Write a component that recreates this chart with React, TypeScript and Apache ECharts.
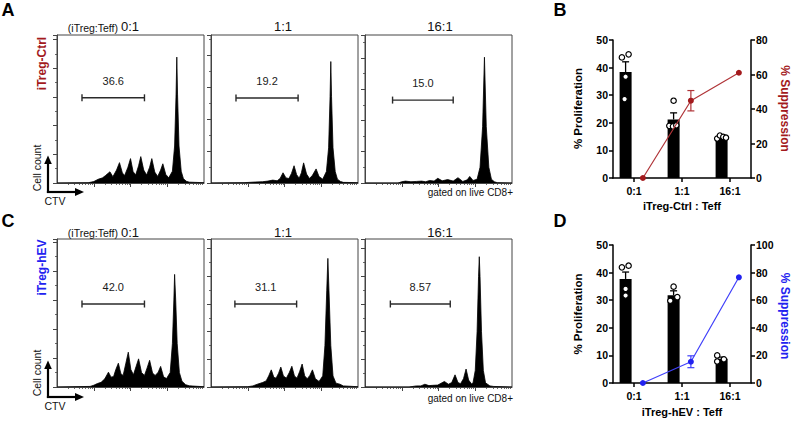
import React, { useEffect, useRef } from 'react';
import * as echarts from 'echarts';

const FONT = '"Liberation Sans", Arial, Helvetica, sans-serif';
const RED = '#a31a1d';
const RED_LINE = '#b03438';
const BLUE = '#2222f0';
const BLUE_LINE = '#4040fa';
const BOX = '#444';

// ---------- categories ----------
const RATIOS = ['0:1', '1:1', '16:1'];

// ---------- CTV histograms: [CTV (log10 decades), cell count] ----------
const HIST_CTRL_0_1 = [
  [0, 0], [0.85, 1], [1.0, 5], [1.12, 13], [1.24, 18], [1.32, 26], [1.44, 39], [1.52, 22], [1.62, 45], [1.7, 71],
  [1.78, 35], [1.84, 26], [1.93, 55], [2.0, 85], [2.07, 40], [2.14, 28], [2.22, 60], [2.28, 92], [2.36, 45],
  [2.44, 28], [2.52, 55], [2.58, 85], [2.66, 38], [2.74, 23], [2.82, 45], [2.88, 67], [2.96, 30], [3.04, 18],
  [3.14, 41], [3.2, 129], [3.24, 310], [3.26, 439], [3.28, 310], [3.32, 129], [3.38, 41], [3.44, 15], [3.52, 6],
  [3.6, 3], [4, 1],
];
const HIST_CTRL_1_1 = [
  [0, 0], [0.9, 1], [1.2, 3], [1.4, 4], [1.55, 6], [1.68, 9], [1.8, 7], [1.88, 14], [1.96, 32], [2.04, 16],
  [2.12, 14], [2.19, 30], [2.26, 54], [2.33, 26], [2.4, 15], [2.46, 32], [2.52, 63], [2.6, 28], [2.68, 14],
  [2.76, 24], [2.86, 44], [2.94, 20], [3.04, 12], [3.14, 36], [3.2, 110], [3.24, 270], [3.26, 380], [3.28, 270],
  [3.32, 110], [3.38, 36], [3.44, 12], [3.52, 5], [3.6, 2], [4, 1],
];
const HIST_CTRL_16_1 = [
  [0, 0], [0.9, 0], [1.0, 4], [1.1, 6], [1.25, 4], [1.4, 5], [1.54, 6], [1.65, 4], [1.76, 8], [1.88, 6],
  [1.98, 15], [2.1, 7], [2.25, 11], [2.4, 6], [2.53, 17], [2.66, 5], [2.78, 10], [2.85, 21], [2.94, 8],
  [3.05, 12], [3.13, 50], [3.2, 180], [3.25, 402], [3.3, 180], [3.37, 50], [3.44, 12], [3.52, 4], [3.6, 1], [4, 0],
];
const HIST_HEV_0_1 = [
  [0, 0], [0.9, 2], [1.0, 6], [1.1, 12], [1.2, 16], [1.3, 28], [1.4, 51], [1.47, 34], [1.54, 36], [1.6, 60],
  [1.67, 82], [1.74, 45], [1.8, 40], [1.87, 80], [1.94, 120], [2.01, 60], [2.08, 42], [2.15, 70], [2.22, 97],
  [2.3, 50], [2.38, 40], [2.45, 65], [2.52, 92], [2.6, 48], [2.67, 40], [2.75, 50], [2.82, 71], [2.9, 35],
  [2.98, 29], [3.08, 50], [3.14, 150], [3.18, 300], [3.2, 388], [3.23, 300], [3.27, 150], [3.33, 50], [3.4, 20],
  [3.5, 8], [3.6, 4], [4, 1],
];
const HIST_HEV_1_1 = [
  [0, 0], [1.0, 1], [1.14, 4], [1.26, 10], [1.4, 16], [1.5, 22], [1.57, 40], [1.64, 62], [1.71, 35], [1.77, 32],
  [1.84, 50], [1.9, 72], [1.97, 40], [2.05, 32], [2.13, 52], [2.2, 75], [2.27, 40], [2.34, 32], [2.41, 55],
  [2.48, 83], [2.55, 40], [2.62, 30], [2.69, 42], [2.76, 62], [2.84, 30], [2.94, 20], [3.04, 40], [3.1, 150],
  [3.15, 350], [3.18, 465], [3.21, 350], [3.26, 150], [3.32, 40], [3.4, 14], [3.51, 10], [3.6, 4], [4, 1],
];
const HIST_HEV_16_1 = [
  [0, 0], [1.2, 0], [1.4, 4], [1.52, 4], [1.63, 10], [1.74, 5], [1.84, 6], [1.98, 7], [2.16, 20], [2.27, 10],
  [2.36, 16], [2.45, 44], [2.53, 16], [2.6, 12], [2.68, 30], [2.75, 65], [2.82, 25], [2.9, 11], [2.94, 15],
  [3.0, 60], [3.05, 200], [3.09, 400], [3.11, 471], [3.13, 400], [3.17, 200], [3.22, 60], [3.28, 15], [3.4, 4],
  [3.5, 2], [4, 0],
];

// y-axis maximum (cell count) of each histogram box
const YMAX_CTRL = [516, 463, 473];
const YMAX_HEV = [510, 535, 535];

// proliferation gates: [from CTV, to CTV, height (count)] and their % labels
const GATE_CTRL = [[0.68, 2.38, 297], [0.68, 2.37, 266], [0.75, 2.4, 265]];
const GATE_HEV = [[0.68, 2.38, 286], [0.65, 2.33, 300], [0.69, 2.32, 300]];
const GATE_PCT_CTRL = ['36.6', '19.2', '15.0'];
const GATE_PCT_HEV = ['42.0', '31.1', '8.57'];

// CTV axis ticks (log decades)
const CTV_MAJOR_TICKS = [1, 2, 3];
const CTV_MINOR_TICKS = [0, 1, 2, 3].flatMap((d) => [2, 3, 4, 5, 6, 7, 8, 9].map((k) => d + Math.log10(k)));

// ---------- summary panels ----------
const PROLIF_CTRL_MEAN = [38.4, 21.2, 15.1];
const PROLIF_CTRL_SEM = [3.7, 2.4, 0.4];
const PROLIF_CTRL_POINTS = [[43.7, 44.8, 36.7, 28.6], [28.0, 18.9, 18.7, 19.1], [14.3, 15.4, 14.9, 14.6]];
const SUPP_CTRL_MEAN = [0, 44.8, 61.0];
const SUPP_CTRL_SEM = [0, 5.9, 0];

const PROLIF_HEV_MEAN = [37.7, 31.8, 8.8];
const PROLIF_HEV_SEM = [2.5, 1.6, 0.6];
const PROLIF_HEV_POINTS = [[41.9, 42.5, 34.1, 31.7], [34.9, 29.8, 31.1], [10.0, 7.8, 8.6]];
const SUPP_HEV_MEAN = [0, 15.4, 76.6];
const SUPP_HEV_SEM = [0, 4.3, 0];

const PROLIF_TICKS = { min: 0, max: 50, interval: 10 };
const SUPP_TICKS_CTRL = { min: 0, max: 80, interval: 20 };
const SUPP_TICKS_HEV = { min: 0, max: 100, interval: 20 };

// horizontal jitter (px) of replicate dots
const JITTER_CTRL = [[-3.7, 3, 0, -1], [0, -4.3, -0.6, 2.7], [-4.4, -1.7, 1.7, 4.4]];
const JITTER_HEV = [[-3.7, 3, 0, 0], [0, -3.3, 3.7], [-4.4, -4.4, 2.3]];

// layout
const X_MIN = -0.4375;
const X_MAX = 2.4375;
const BAR_OFFSET = -0.175;
const LINE_OFFSET = 0.185;
const HIST_LEFT = [57, 211, 365];
const HIST_TOP = [35, 239];
const HIST_W = 147;
const HIST_H = 148;

function buildOption() {
  const grid: any[] = [];
  const xAxis: any[] = [];
  const yAxis: any[] = [];
  const series: any[] = [];

  const rows = [
    { hist: [HIST_CTRL_0_1, HIST_CTRL_1_1, HIST_CTRL_16_1], ymax: YMAX_CTRL, gates: GATE_CTRL, pct: GATE_PCT_CTRL },
    { hist: [HIST_HEV_0_1, HIST_HEV_1_1, HIST_HEV_16_1], ymax: YMAX_HEV, gates: GATE_HEV, pct: GATE_PCT_HEV },
  ];

  rows.forEach((row, r) => {
    row.hist.forEach((data, c) => {
      const g = grid.length;
      grid.push({
        left: HIST_LEFT[c], top: HIST_TOP[r], width: HIST_W, height: HIST_H,
        show: true, borderColor: BOX, borderWidth: 1, backgroundColor: 'transparent',
        containLabel: false, outerBoundsMode: 'none',
      });
      const xi = xAxis.length;
      const baseX = {
        type: 'value', gridIndex: g, min: 0, max: 4, position: 'bottom',
        axisLabel: { show: false }, splitLine: { show: false },
      };
      xAxis.push({
        ...baseX,
        axisLine: { show: true, onZero: false, lineStyle: { color: BOX, width: 1 } },
        axisTick: { show: true, customValues: CTV_MAJOR_TICKS, length: 4, lineStyle: { color: BOX, width: 1 } },
      });
      xAxis.push({
        ...baseX,
        axisLine: { show: false, onZero: false },
        axisTick: { show: true, customValues: CTV_MINOR_TICKS, length: 2, lineStyle: { color: BOX, width: 0.8 } },
      });
      const yi = yAxis.length;
      yAxis.push({
        type: 'value', gridIndex: g, min: 0, max: row.ymax[c], interval: 100,
        axisLine: { show: true, onZero: false, lineStyle: { color: BOX, width: 1 } },
        axisTick: { show: true, length: 4, lineStyle: { color: BOX, width: 1 } },
        minorTick: { show: true, splitNumber: 2, length: 2, lineStyle: { color: BOX, width: 0.8 } },
        axisLabel: { show: false }, splitLine: { show: false }, minorSplitLine: { show: false },
      });
      series.push({
        type: 'line', xAxisIndex: xi, yAxisIndex: yi, data,
        showSymbol: false, symbol: 'none', silent: true,
        lineStyle: { color: '#000', width: 0.8 },
        areaStyle: { color: '#000', opacity: 1 },
      });
      const label = row.pct[c];
      series.push({
        type: 'custom', xAxisIndex: xi, yAxisIndex: yi, data: [row.gates[c]], silent: true, z: 5,
        renderItem: (_p: any, api: any) => {
          const a = api.coord([api.value(0), api.value(2)]);
          const b = api.coord([api.value(1), api.value(2)]);
          const s = { stroke: '#2a2a2a', lineWidth: 1.4 };
          return {
            type: 'group',
            children: [
              { type: 'line', shape: { x1: a[0], y1: a[1], x2: b[0], y2: b[1] }, style: s },
              { type: 'line', shape: { x1: a[0], y1: a[1] - 3.5, x2: a[0], y2: a[1] + 3.5 }, style: s },
              { type: 'line', shape: { x1: b[0], y1: b[1] - 3.5, x2: b[0], y2: b[1] + 3.5 }, style: s },
              {
                type: 'text', x: (a[0] + b[0]) / 2, y: a[1] - 17,
                style: { text: label, fill: '#1a1a1a', fontSize: 11, fontFamily: FONT, align: 'center', verticalAlign: 'middle' },
              },
            ],
          };
        },
      });
    });
  });

  const stats = [
    {
      top: 40, mean: PROLIF_CTRL_MEAN, sem: PROLIF_CTRL_SEM, points: PROLIF_CTRL_POINTS, jitter: JITTER_CTRL,
      supp: SUPP_CTRL_MEAN, suppSem: SUPP_CTRL_SEM, suppTicks: SUPP_TICKS_CTRL, color: RED, lineColor: RED_LINE,
    },
    {
      top: 245, mean: PROLIF_HEV_MEAN, sem: PROLIF_HEV_SEM, points: PROLIF_HEV_POINTS, jitter: JITTER_HEV,
      supp: SUPP_HEV_MEAN, suppSem: SUPP_HEV_SEM, suppTicks: SUPP_TICKS_HEV, color: BLUE, lineColor: BLUE_LINE,
    },
  ];

  const axisStyle = { color: '#000', width: 1.5 };
  const tickLabel = { fontWeight: 'bold', fontSize: 10.5, color: '#000', fontFamily: FONT };

  stats.forEach((st) => {
    const g = grid.length;
    grid.push({ left: 613, top: st.top, width: 138, height: 138, show: false, containLabel: false, outerBoundsMode: 'none' });
    const xi = xAxis.length;
    xAxis.push({
      type: 'value', gridIndex: g, min: X_MIN, max: X_MAX, position: 'bottom',
      axisLine: { show: true, onZero: false, lineStyle: axisStyle },
      axisTick: { show: true, customValues: [0, 1, 2], length: 4, lineStyle: axisStyle },
      axisLabel: { show: true, customValues: [0, 1, 2], formatter: (v: number) => RATIOS[Math.round(v)], margin: 7, ...tickLabel },
      splitLine: { show: false },
    });
    const yl = yAxis.length;
    yAxis.push({
      type: 'value', gridIndex: g, position: 'left', ...PROLIF_TICKS,
      axisLine: { show: true, onZero: false, lineStyle: axisStyle },
      axisTick: { show: true, length: 4, lineStyle: axisStyle },
      axisLabel: { show: true, margin: 5, ...tickLabel },
      splitLine: { show: false },
    });
    const yr = yAxis.length;
    yAxis.push({
      type: 'value', gridIndex: g, position: 'right', ...st.suppTicks,
      axisLine: { show: true, onZero: false, lineStyle: axisStyle },
      axisTick: { show: true, length: 4, lineStyle: axisStyle },
      axisLabel: { show: true, margin: 5, ...tickLabel },
      splitLine: { show: false },
    });

    // bars
    series.push({
      type: 'custom', xAxisIndex: xi, yAxisIndex: yl, z: 2, silent: true,
      data: RATIOS.map((_, i) => [i + BAR_OFFSET, st.mean[i]]),
      renderItem: (_p: any, api: any) => {
        const top = api.coord([api.value(0), api.value(1)]);
        const base = api.coord([api.value(0), 0]);
        return { type: 'rect', shape: { x: top[0] - 6, y: top[1], width: 12, height: base[1] - top[1] }, style: { fill: '#000' } };
      },
    });
    // SEM (upper)
    series.push({
      type: 'custom', xAxisIndex: xi, yAxisIndex: yl, z: 3, silent: true,
      data: RATIOS.map((_, i) => [i + BAR_OFFSET, st.mean[i], st.sem[i]]),
      renderItem: (_p: any, api: any) => {
        const a = api.coord([api.value(0), api.value(1)]);
        const b = api.coord([api.value(0), api.value(1) + api.value(2)]);
        const s = { stroke: '#000', lineWidth: 1.3 };
        return {
          type: 'group',
          children: [
            { type: 'line', shape: { x1: a[0], y1: a[1], x2: b[0], y2: b[1] }, style: s },
            { type: 'line', shape: { x1: b[0] - 3.5, y1: b[1], x2: b[0] + 3.5, y2: b[1] }, style: s },
          ],
        };
      },
    });
    // replicate dots
    const dots: number[][] = [];
    st.points.forEach((vals, i) => vals.forEach((v, k) => dots.push([i + BAR_OFFSET, v, st.jitter[i][k]])));
    series.push({
      type: 'custom', xAxisIndex: xi, yAxisIndex: yl, z: 4, silent: true, data: dots,
      renderItem: (_p: any, api: any) => {
        const p = api.coord([api.value(0), api.value(1)]);
        return { type: 'circle', shape: { cx: p[0] + api.value(2), cy: p[1], r: 2.7 }, style: { fill: '#fff', stroke: '#000', lineWidth: 1.2 } };
      },
    });
    // suppression SEM
    series.push({
      type: 'custom', xAxisIndex: xi, yAxisIndex: yr, z: 5, silent: true,
      data: RATIOS.map((_, i) => [i + LINE_OFFSET, st.supp[i], st.suppSem[i]]),
      renderItem: (_p: any, api: any) => {
        if (!api.value(2)) return null;
        const a = api.coord([api.value(0), api.value(1) - api.value(2)]);
        const b = api.coord([api.value(0), api.value(1) + api.value(2)]);
        const s = { stroke: st.lineColor, lineWidth: 1.2 };
        return {
          type: 'group',
          children: [
            { type: 'line', shape: { x1: a[0], y1: a[1], x2: b[0], y2: b[1] }, style: s },
            { type: 'line', shape: { x1: a[0] - 3.5, y1: a[1], x2: a[0] + 3.5, y2: a[1] }, style: s },
            { type: 'line', shape: { x1: b[0] - 3.5, y1: b[1], x2: b[0] + 3.5, y2: b[1] }, style: s },
          ],
        };
      },
    });
    // suppression line
    series.push({
      type: 'line', xAxisIndex: xi, yAxisIndex: yr, z: 6, silent: true, clip: false,
      data: RATIOS.map((_, i) => [i + LINE_OFFSET, st.supp[i]]),
      symbol: 'circle', symbolSize: 6, showSymbol: true,
      itemStyle: { color: st.color },
      lineStyle: { color: st.lineColor, width: 1.2 },
    });
  });

  const txt = (text: string, x: number, y: number, o: any = {}) => ({
    type: 'text', x, y, rotation: o.rotation || 0, silent: true,
    style: {
      text, fill: o.color || '#000', fontSize: o.size || 11, fontFamily: FONT, fontWeight: o.weight || 'normal',
      align: o.align || 'center', verticalAlign: 'middle',
    },
  });

  const elements: any[] = [
    txt('A', 8, 10, { size: 18, weight: 'bold' }),
    txt('B', 560, 10, { size: 18, weight: 'bold' }),
    txt('C', 8, 221, { size: 18, weight: 'bold' }),
    txt('D', 560, 221, { size: 18, weight: 'bold' }),
    txt('iTreg-Ctrl', 42, 63.5, { size: 12, weight: 'bold', color: RED, rotation: Math.PI / 2 }),
    txt('iTreg-hEV', 42, 267.5, { size: 12, weight: 'bold', color: BLUE, rotation: Math.PI / 2 }),
  ];

  const TITLE_Y = [26.5, 232];
  const ARROW_DY = [0, 205];
  const GATED_Y = [192, 398];
  [0, 1].forEach((r) => {
    const ty = TITLE_Y[r];
    elements.push(txt('(iTreg:Teff)', 118, ty + 1, { size: 10.5, align: 'right', color: '#111' }));
    elements.push(txt(RATIOS[0], 121, ty, { size: 13, align: 'left', color: '#111' }));
    elements.push(txt(RATIOS[1], 283, ty, { size: 13, color: '#111' }));
    elements.push(txt(RATIOS[2], 440, ty, { size: 13, color: '#111' }));
    const dy = ARROW_DY[r];
    elements.push(
      { type: 'line', silent: true, shape: { x1: 48, y1: 193 + dy, x2: 48, y2: 163 + dy }, style: { stroke: '#000', lineWidth: 2.2 } },
      { type: 'polygon', silent: true, shape: { points: [[44.2, 164 + dy], [51.8, 164 + dy], [48, 155.5 + dy]] }, style: { fill: '#000' } },
      { type: 'line', silent: true, shape: { x1: 46.9, y1: 192 + dy, x2: 76, y2: 192 + dy }, style: { stroke: '#000', lineWidth: 2.2 } },
      { type: 'polygon', silent: true, shape: { points: [[75, 188 + dy], [75, 196 + dy], [84, 192 + dy]] }, style: { fill: '#000' } },
    );
    elements.push(txt('Cell count', 37, 168 + dy, { size: 10.5, rotation: Math.PI / 2, color: '#111' }));
    elements.push(txt('CTV', 55, 201 + dy, { size: 10.5, color: '#111' }));
    elements.push(txt('gated on live CD8+', 513, GATED_Y[r], { size: 10, align: 'right', color: '#111' }));
  });

  elements.push(txt('% Proliferation', 578, 108.5, { size: 11.5, weight: 'bold', rotation: Math.PI / 2 }));
  elements.push(txt('% Suppression', 785, 108.5, { size: 12, weight: 'bold', color: RED, rotation: -Math.PI / 2 }));
  elements.push(txt('iTreg-Ctrl : Teff', 682, 206, { size: 11, weight: 'bold' }));
  elements.push(txt('% Proliferation', 578, 314, { size: 11.5, weight: 'bold', rotation: Math.PI / 2 }));
  elements.push(txt('% Suppression', 785, 316, { size: 12, weight: 'bold', color: BLUE, rotation: -Math.PI / 2 }));
  elements.push(txt('iTreg-hEV : Teff', 682, 412, { size: 11, weight: 'bold' }));

  return {
    animation: false,
    backgroundColor: '#fff',
    grid,
    xAxis,
    yAxis,
    series,
    graphic: { elements },
  };
}

export default function App() {
  const ref = useRef<HTMLDivElement>(null);
  useEffect(() => {
    if (!ref.current) return;
    const chart = echarts.init(ref.current, null, { renderer: 'svg' });
    chart.setOption(buildOption() as any);
    return () => chart.dispose();
  }, []);
  return (
    <div
      ref={ref}
      style={{ position: 'absolute', left: 0, top: 0, width: 800, height: 421, background: '#fff' }}
    />
  );
}
